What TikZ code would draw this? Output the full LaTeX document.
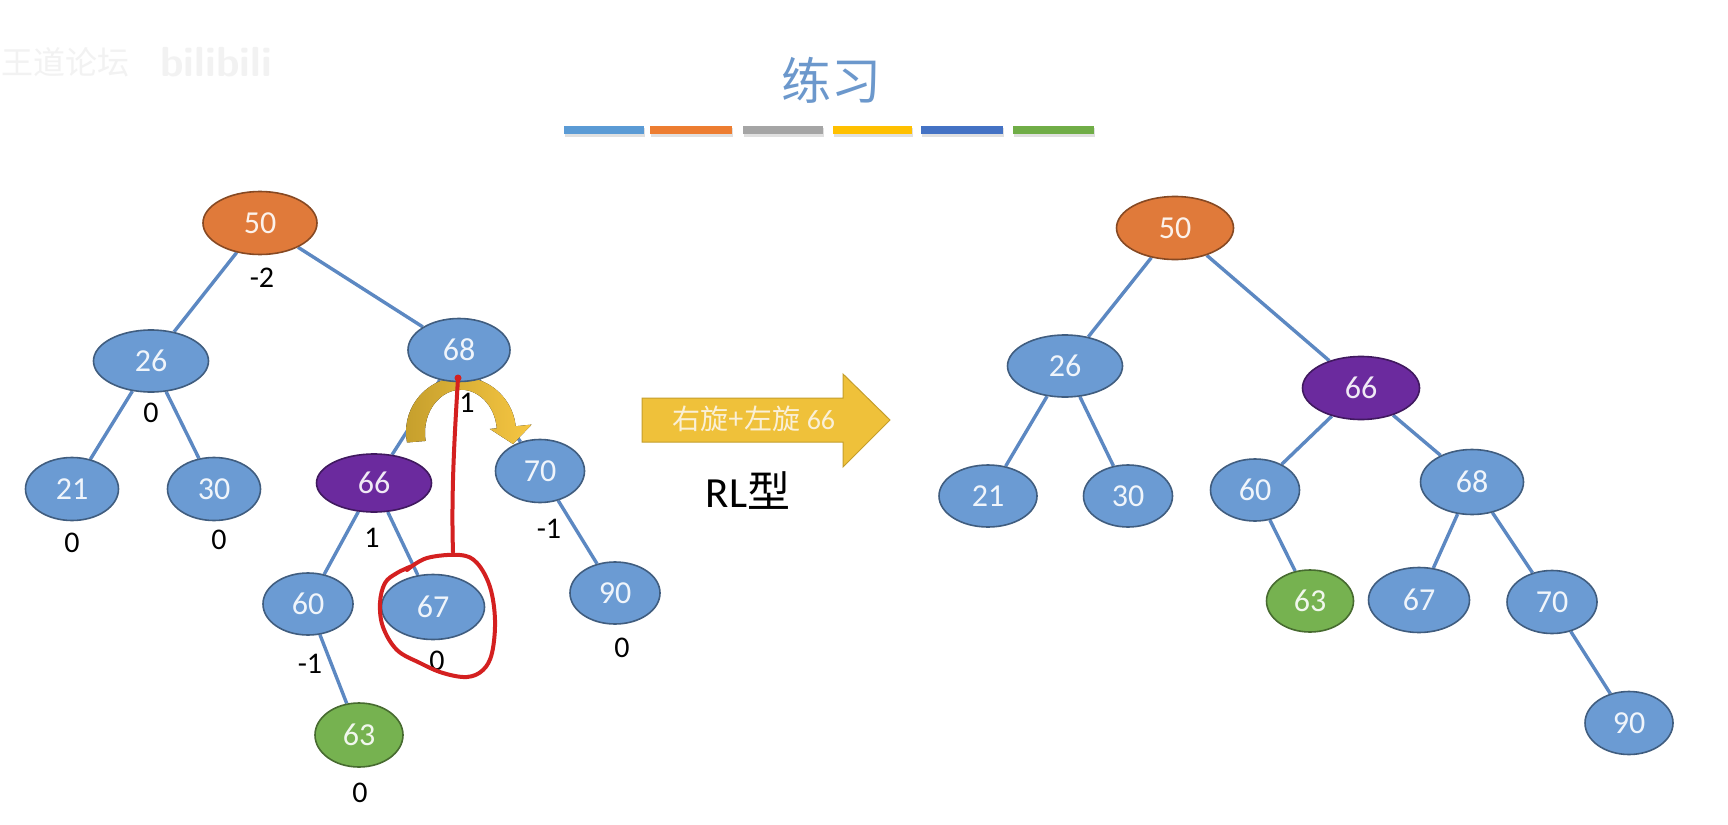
\documentclass[tikz,border=0pt]{standalone}
\usepackage{fontspec}
\setmainfont{Carlito}
\newfontfamily\cjk{Noto Sans CJK SC}
\usetikzlibrary{shapes.geometric}
\pgfdeclarelayer{bg}
\pgfsetlayers{bg,main}
\definecolor{nblue}{RGB}{107,155,211}
\definecolor{norange}{RGB}{224,122,58}
\definecolor{npurple}{RGB}{107,42,158}
\definecolor{ngreen}{RGB}{118,178,80}
\definecolor{ecol}{RGB}{92,136,194}
\definecolor{tblue}{RGB}{108,152,204}
\definecolor{arrowyel}{RGB}{239,193,58}
\definecolor{arrowtxt}{RGB}{250,240,215}
\definecolor{cdark}{RGB}{196,158,44}
\definecolor{clight}{RGB}{246,198,66}
\definecolor{redl}{RGB}{212,32,32}
\definecolor{barA}{RGB}{91,155,213}
\definecolor{barB}{RGB}{237,125,49}
\definecolor{barC}{RGB}{165,165,165}
\definecolor{barD}{RGB}{255,192,0}
\definecolor{barE}{RGB}{68,114,196}
\definecolor{barF}{RGB}{112,173,71}
\begin{document}
\begin{tikzpicture}[x=0.5pt,y=-0.5pt,
  bt/.style={ellipse, draw=#1!60!black, fill=#1, line width=0.8pt,
    text=#1!10!white, font=\fontsize{16}{18}\selectfont, inner sep=0pt},
  sz/.style 2 args={minimum width=#1*0.5pt, minimum height=#2*0.5pt},
  lbl/.style={font=\fontsize{15}{17}\selectfont, text=black, inner sep=0pt},
  tedge/.style={draw=ecol, line width=1.7pt},
  redpen/.style={draw=redl, line width=2pt, line cap=round, line join=round}]
\begin{pgfonlayer}{bg}
\useasboundingbox (0,0) rectangle (1728,824);
\fill[white] (0,0) rectangle (1728,824);
\end{pgfonlayer}

% watermark
\node[text=black!5, font=\cjk\fontsize{16}{18}\selectfont, inner sep=0pt] (wm1) at (66,62) {王道论坛};
\node[text=black!5, font=\sffamily\bfseries\fontsize{21}{23}\selectfont, inner sep=0pt] (wm2) at (216,62) {bilibili};

% title and bars
\node[font=\cjk\fontsize{25}{28}\selectfont, text=tblue, inner sep=0pt] (title) at (831,80) {练习};
\foreach \xa/\xb/\c in {564/644/barA, 650/732/barB, 743/823/barC, 833/912/barD, 921/1003/barE, 1013/1094/barF}{
  \fill[black, opacity=0.12] (\xa+1,128) rectangle (\xb+1,137);
  \fill[\c] (\xa,126) rectangle (\xb,134);
}

% left tree nodes
\node[bt=norange, sz={114}{63}] (L50) at (260,223) {50};
\node[bt=nblue,   sz={115}{62}] (L26) at (151,361) {26};
\node[bt=nblue,   sz={102}{63}] (L68) at (459,350) {68};
\node[bt=nblue,   sz={93}{63}]  (L21) at (72,489) {21};
\node[bt=nblue,   sz={93}{63}]  (L30) at (214,489) {30};
\node[bt=npurple, sz={115}{58}] (L66) at (374,483) {66};
\node[bt=nblue,   sz={89}{63}]  (L70) at (540,471) {70};
\node[bt=nblue,   sz={90}{62}]  (L60) at (308,604) {60};
\node[bt=nblue,   sz={103}{65}] (L67) at (433,607) {67};
\node[bt=nblue,   sz={90}{62}]  (L90) at (615,593) {90};
\node[bt=ngreen,  sz={88}{64}]  (L63) at (359,735) {63};

\begin{pgfonlayer}{bg}
\foreach \a/\b in {L50/L26, L50/L68, L26/L21, L26/L30, L68/L66, L68/L70, L66/L60, L66/L67, L70/L90, L60/L63}
  \draw[tedge] (\a) -- (\b);
% curved rotation arrow (behind node 68)
\begin{scope}[shift={(461,432)}, yscale=-1]
  \fill[left color=cdark, right color=clight]
    (191:55) arc[start angle=191, end angle=6, radius=55]
    -- (6:71) -- (52,-12) -- (6:29) -- (6:36)
    arc[start angle=6, end angle=191, x radius=36, y radius=43] -- cycle;
\end{scope}
\end{pgfonlayer}

% balance factors
\node[lbl] (bf50) at (262,278) {-2};
\node[lbl] (bf26) at (151,413) {0};
\node[lbl] (bf68) at (467,403) {1};
\node[lbl] (bf21) at (72,543) {0};
\node[lbl] (bf30) at (219,540) {0};
\node[lbl] (bf66) at (372,538) {1};
\node[lbl] (bf70) at (549,529) {-1};
\node[lbl] (bf60) at (310,664) {-1};
\node[lbl] (bf67) at (437,661) {0};
\node[lbl] (bf90) at (622,648) {0};
\node[lbl] (bf63) at (360,793) {0};

% red annotation
\fill[redl] (458,378) circle[radius=3.5];
\draw[redpen] (458,378) .. controls (455,430) and (451,490) .. (453,552);
\draw[redpen] plot[smooth, tension=0.6] coordinates {(407,570) (427,558) (460,555) (477,563) (490,587) (495,620) (492,653) (483,670) (467,677) (443,673) (420,663) (397,650) (383,627) (380,603) (385,583) (397,573) (412,566)};

% big arrow
\filldraw[fill=arrowyel, draw=cdark, line width=0.5pt]
  (642,398) -- (843,398) -- (843,374) -- (890,420) -- (843,467) -- (843,442) -- (642,442) -- cycle;
\node[text=arrowtxt, font=\fontsize{14}{16}\selectfont, inner sep=0pt] (optxt) at (754,419) {{\cjk 右旋+左旋} 66};
\node[font=\fontsize{21.5}{24}\selectfont, inner sep=0pt] (rl) at (748,491) {RL{\cjk 型}};

% right tree nodes
\node[bt=norange, sz={117}{63}] (R50) at (1175,228) {50};
\node[bt=nblue,   sz={115}{62}] (R26) at (1065,366) {26};
\node[bt=npurple, sz={117}{63}] (R66) at (1361,388) {66};
\node[bt=nblue,   sz={98}{62}]  (R21) at (988,496) {21};
\node[bt=nblue,   sz={89}{62}]  (R30) at (1128,496) {30};
\node[bt=nblue,   sz={89}{62}]  (R60) at (1255,490) {60};
\node[bt=nblue,   sz={103}{65}] (R68) at (1472,482) {68};
\node[bt=ngreen,  sz={87}{62}]  (R63) at (1310,601) {63};
\node[bt=nblue,   sz={101}{65}] (R67) at (1419,600) {67};
\node[bt=nblue,   sz={90}{63}]  (R70) at (1552,602) {70};
\node[bt=nblue,   sz={88}{63}]  (R90) at (1629,723) {90};

\begin{pgfonlayer}{bg}
\foreach \a/\b in {R50/R26, R50/R66, R26/R21, R26/R30, R66/R60, R66/R68, R60/R63, R68/R67, R68/R70, R70/R90}
  \draw[tedge] (\a) -- (\b);
\end{pgfonlayer}
\end{tikzpicture}
\end{document}
